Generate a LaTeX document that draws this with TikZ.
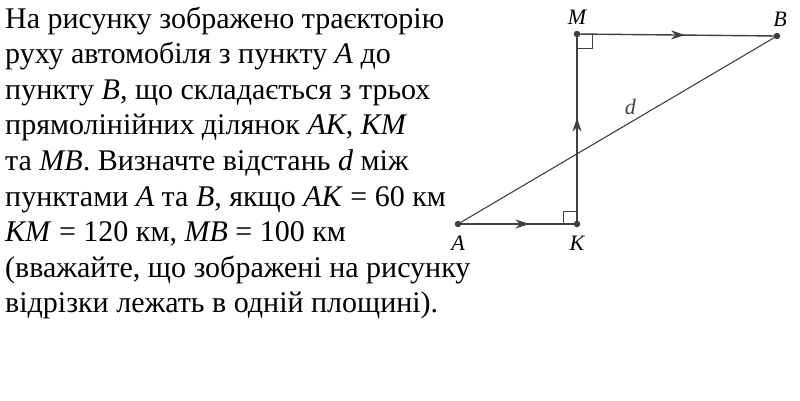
\documentclass[tikz,border=0pt]{standalone}
\usepackage{fontspec}
\setmainfont{Liberation Serif}
\usetikzlibrary{arrows.meta, decorations.markings, positioning}
\definecolor{ink}{HTML}{453C4A}

\begin{document}
\begin{tikzpicture}[x=1pt, y=-1pt, >={Stealth[length=14pt,width=9pt]},
        txt/.style={anchor=base west, inner sep=0pt, font=\fontsize{30}{35.6}\selectfont},
        dot/.style={circle, fill=ink, inner sep=0pt, minimum size=6.5pt},
        lbl/.style={font=\fontsize{22}{22}\selectfont\itshape, inner sep=0pt},
        leg/.style={draw=ink, line width=1.4pt, postaction={decorate},
            decoration={markings, mark=at position #1 with {\arrow{>}}}}]
        \useasboundingbox (0,0) rectangle (800,400);
        % problem text, one node per line
        \foreach \ln [count=\i] in {
            {На рисунку зображено траєкторію},
            {руху автомобіля з пункту \textit{A} до},
            {пункту \textit{B}, що складається з трьох},
            {прямолінійних ділянок \textit{AK}, \textit{KM}},
            {та \textit{MB}. Визначте відстань \textit{d} між},
            {пунктами \textit{A} та \textit{B}, якщо \textit{AK} = 60 км},
            {\textit{KM} = 120 км, \textit{MB} = 100 км},
            {(вважайте, що зображені на рисунку},
            {відрізки лежать в одній площині).}}
            \node[txt] (line\i) at (5,{28+35.6*(\i-1)}) {\ln};
        % points
        \node[dot] (A) at (458,224) {};
        \node[dot] (K) at (577,224) {};
        \node[dot] (M) at (577,34) {};
        \node[dot] (B) at (777,36) {};
        \node[lbl, below=8pt of A] (lA) {A};
        \node[lbl, below=8pt of K] (lK) {K};
        \node[lbl, above=6pt of M] (lM) {M};
        \node[lbl, above=6pt of B, xshift=3pt] (lB) {B};
        % route
        \draw[leg=0.6] (A.center) -- (K.center);
        \draw[leg=0.56] (K.center) -- (M.center);
        \draw[leg=0.54] (M.center) -- (B.center);
        \draw[ink, line width=1.1pt] (A.center) -- node[lbl, pos=0.54, above=7pt] (ld) {d} (B.center);
        % right angles
        \draw[ink, line width=1pt] (K.center) ++(-14,0) -- ++(0,-13) -- ++(14,0);
        \draw[ink, line width=1pt] (M.center) ++(0,14) -- ++(15,0) -- ++(0,-14);
\end{tikzpicture}
\end{document}
